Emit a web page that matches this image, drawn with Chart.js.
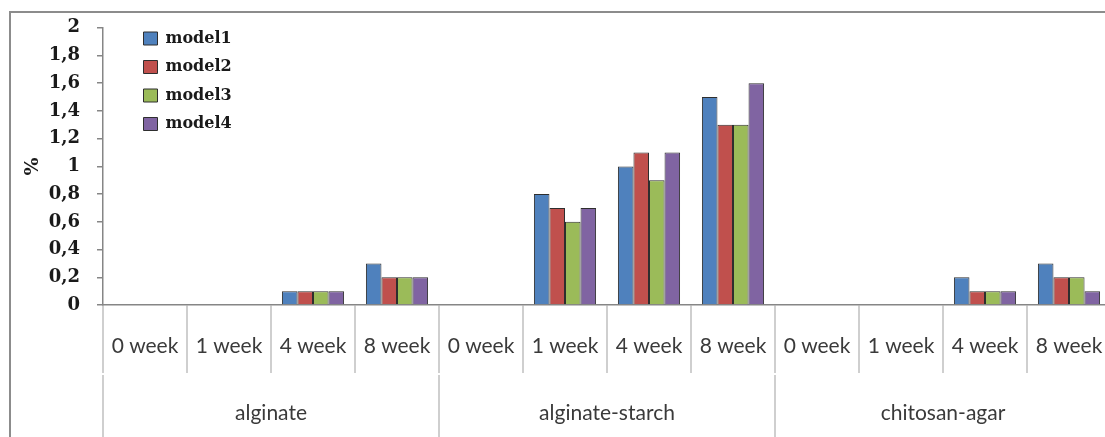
<!DOCTYPE html>
<html>
<head>
<meta charset="utf-8" />
<title>chart</title>
<script src="https://cdn.jsdelivr.net/npm/chart.js"></script>
<style>
  html, body { margin: 0; padding: 0; overflow: hidden; background: #fff; }
  #frame { position: absolute; left: 9px; top: 11px; width: 1200px; height: 500px;
           border-left: 2px solid #8c8c8c; border-top: 2px solid #8c8c8c; }
  #wrap { position: absolute; left: 0; top: 0; width: 1120px; height: 445px; }
</style>
</head>
<body>
<div id="frame"></div>
<div id="wrap"><canvas id="myChart" width="1120" height="445"></canvas></div>
<script>
  // data
  const weeks = ['0 week', '1 week', '4 week', '8 week',
                 '0 week', '1 week', '4 week', '8 week',
                 '0 week', '1 week', '4 week', '8 week'];
  const groups = ['alginate', 'alginate-starch', 'chitosan-agar'];
  const model1 = [0, 0, 0.1, 0.3, 0, 0.8, 1.0, 1.5, 0, 0, 0.2, 0.3];
  const model2 = [0, 0, 0.1, 0.2, 0, 0.7, 1.1, 1.3, 0, 0, 0.1, 0.2];
  const model3 = [0, 0, 0.1, 0.2, 0, 0.6, 0.9, 1.3, 0, 0, 0.1, 0.2];
  const model4 = [0, 0, 0.1, 0.2, 0, 0.7, 1.1, 1.6, 0, 0, 0.1, 0.1];
  const yTicks = [0, 0.2, 0.4, 0.6, 0.8, 1, 1.2, 1.4, 1.6, 1.8, 2];

  const axisGray = '#868686';
  const sepGray = '#cfcfcf';

  function ds(label, data, color) {
    return {
      label: label,
      data: data,
      backgroundColor: color,
      borderColor: '#2e2e2e',
      borderWidth: 1,
      borderSkipped: 'bottom',
      categoryPercentage: 0.74,
      barPercentage: 1.0
    };
  }

  // nudge the legend into the top-left of the plot
  const legendShift = {
    id: 'legendShift',
    afterLayout(chart) {
      if (chart.legend) {
        chart.legend.left += 28;
        chart.legend.top += 18;
      }
    }
  };

  const config = {
    type: 'bar',
    data: {
      labels: weeks,
      datasets: [
        ds('model1', model1, '#4f81bd'),
        ds('model2', model2, '#c0504d'),
        ds('model3', model3, '#9bbb59'),
        ds('model4', model4, '#8064a2')
      ]
    },
    options: {
      responsive: false,
      animation: false,
      devicePixelRatio: 1,
      layout: { padding: { top: 17, right: 9, left: 0, bottom: 0 } },
      plugins: {
        tooltip: { enabled: false },
        legend: {
          position: 'chartArea',
          align: 'start',
          labels: {
            boxWidth: 14,
            boxHeight: 13,
            padding: 12.5,
            color: '#1a1a1a',
            font: { family: 'DejaVu Serif', weight: 'bold', size: 16 }
          }
        }
      },
      scales: {
        x: {
          type: 'category',
          position: 'bottom',
          weight: 0,
          offset: true,
          grid: {
            offset: true,
            drawOnChartArea: false,
            drawTicks: true,
            tickLength: 68,
            color: sepGray,
            lineWidth: 2
          },
          border: { display: true, color: axisGray, width: 1.5 },
          ticks: {
            autoSkip: false,
            maxRotation: 0,
            minRotation: 0,
            padding: -39,
            color: '#3a3a3a',
            font: { family: 'Lato', size: 21 }
          },
          afterFit(scale) { scale.height = 70; }
        },
        x2: {
          type: 'category',
          labels: groups,
          position: 'bottom',
          weight: 1,
          offset: true,
          grid: {
            offset: true,
            drawOnChartArea: false,
            drawTicks: true,
            tickLength: 70,
            color: sepGray,
            lineWidth: 2
          },
          border: { display: false },
          ticks: {
            autoSkip: false,
            maxRotation: 0,
            minRotation: 0,
            padding: -44,
            color: '#3a3a3a',
            font: { family: 'Lato', size: 21 }
          },
          afterFit(scale) { scale.height = 70; }
        },
        y: {
          min: 0,
          max: 2,
          afterBuildTicks(scale) {
            scale.ticks = yTicks.map(v => ({ value: v }));
          },
          grid: {
            drawOnChartArea: false,
            drawTicks: true,
            tickLength: 6,
            color: axisGray,
            lineWidth: 1.5
          },
          border: { display: true, color: axisGray, width: 1.5 },
          ticks: {
            padding: 17,
            color: '#1a1a1a',
            font: { family: 'DejaVu Serif', weight: 'bold', size: 18 },
            callback: v => String(Number(v.toFixed(1))).replace('.', ',')
          },
          title: {
            display: true,
            text: '%',
            color: '#1a1a1a',
            padding: { top: 22, bottom: 0 },
            font: { family: 'DejaVu Serif', weight: 'bold', size: 19 }
          },
          afterFit(scale) { scale.width = 103; }
        }
      }
    },
    plugins: [legendShift]
  };

  const myChart = new Chart(document.getElementById('myChart'), config);
</script>
</body>
</html>
